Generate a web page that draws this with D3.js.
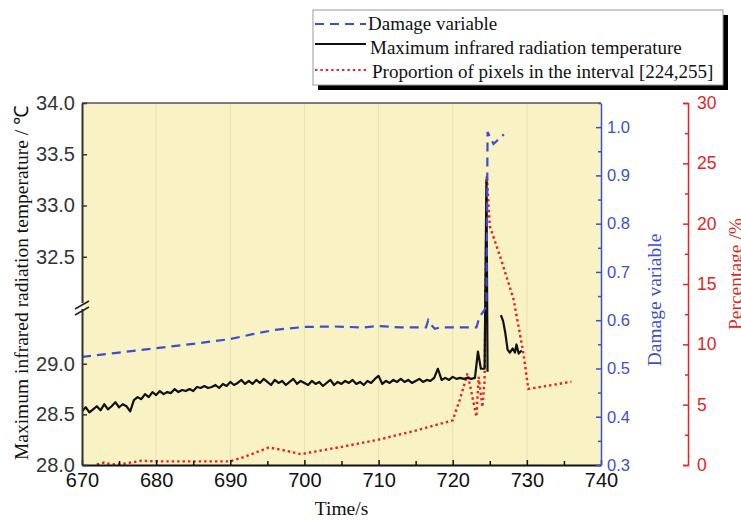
<!DOCTYPE html>
<html><head><meta charset="utf-8">
<script src="https://cdn.jsdelivr.net/npm/d3@7/dist/d3.min.js"></script>
<style>
html,body{margin:0;padding:0;background:#fff;}
svg{display:block;}
</style></head>
<body>
<svg id="chart" width="741" height="520"></svg>
<script>
// ---------- data ----------
const timeTicks = [670, 680, 690, 700, 710, 720, 730, 740];
const tempTicks = [28.0, 28.5, 29.0, 32.5, 33.0, 33.5, 34.0];
const damageTicks = [0.3, 0.4, 0.5, 0.6, 0.7, 0.8, 0.9, 1.0];
const pctTicks = [0, 5, 10, 15, 20, 25, 30];

// Maximum infrared radiation temperature [time, °C]; null = no data
const tempSeries = [
[670.0,28.53],[670.5,28.57],[671.0,28.52],[671.5,28.55],[672.0,28.58],[672.5,28.54],[673.0,28.60],[673.5,28.55],
[674.0,28.58],[674.5,28.62],[675.0,28.57],[675.5,28.60],[676.0,28.58],[676.5,28.53],[677.0,28.64],[677.5,28.67],
[678.0,28.65],[678.5,28.70],[679.0,28.67],[679.5,28.72],[680.0,28.69],[680.5,28.73],[681.0,28.70],[681.5,28.72],
[682.0,28.71],[682.5,28.75],[683.0,28.72],[683.5,28.74],[684.0,28.73],[684.5,28.75],[685.0,28.73],[685.5,28.77],
[686.0,28.76],[686.5,28.78],[687.0,28.76],[687.5,28.77],[688.0,28.79],[688.5,28.76],[689.0,28.80],[689.5,28.78],
[690.0,28.82],[690.5,28.79],[691.0,28.81],[691.5,28.84],[692.0,28.80],[692.5,28.83],[693.0,28.80],[693.5,28.84],
[694.0,28.81],[694.5,28.85],[695.0,28.82],[695.5,28.79],[696.0,28.84],[696.5,28.81],[697.0,28.83],[697.5,28.79],
[698.0,28.82],[698.5,28.85],[699.0,28.80],[699.5,28.83],[700.0,28.81],[700.5,28.79],[701.0,28.83],[701.5,28.80],
[702.0,28.82],[702.5,28.78],[703.0,28.81],[703.5,28.84],[704.0,28.79],[704.5,28.82],[705.0,28.80],[705.5,28.83],
[706.0,28.81],[706.5,28.84],[707.0,28.80],[707.5,28.82],[708.0,28.79],[708.5,28.83],[709.0,28.81],[709.5,28.85],
[710.0,28.88],[710.5,28.80],[711.0,28.83],[711.5,28.81],[712.0,28.84],[712.5,28.82],[713.0,28.85],[713.5,28.82],
[714.0,28.84],[714.5,28.81],[715.0,28.83],[715.5,28.85],[716.0,28.82],[716.5,28.84],[717.0,28.83],[717.5,28.86],
[718.0,28.95],[718.5,28.84],[719.0,28.86],[719.5,28.84],[720.0,28.87],[720.5,28.85],[721.0,28.86],[721.5,28.85],
[722.0,28.86],[722.5,28.85],[723.0,28.86],[723.4,29.12],[723.8,28.95],[724.3,28.95],[724.55,33.25],[724.7,28.92],
[725.0,null],
[726.5,29.48],[726.8,29.42],[727.1,29.30],[727.4,29.14],[727.7,29.11],[728.1,29.15],[728.4,29.11],[728.6,29.19],
[728.9,29.10],[729.3,29.13]
];

// Damage variable [time, value]
const damageSeries = [
[670,0.524],[675,0.533],[680,0.542],[685,0.551],[690,0.561],[693,0.571],[696,0.580],[700,0.586],
[704,0.587],[708,0.585],[710,0.588],[713,0.585],[716.4,0.585],[716.7,0.600],[717.1,0.590],[717.6,0.582],
[718.3,0.585],[723.2,0.585],[723.6,0.606],[724.3,0.622],[724.55,0.630],[724.7,0.990],[725.5,0.965],[726.9,0.985]
];

// Proportion of pixels in the interval [224,255] [time, %]
const pctSeries = [
[672,0.05],[673,0.2],[674,0.05],[675.5,0.1],[677,0.25],[678,0.35],[680,0.3],[685,0.3],[690,0.3],[692,0.7],
[695.2,1.45],[697,1.25],[699.5,0.9],[705,1.5],[710,2.1],[715,2.85],[720,3.7],[721,5.5],[722,7.6],[723.2,4.0],
[723.5,7.3],[724.0,4.8],[724.3,7.0],[724.6,24.0],[725.0,19.8],[726.6,16.9],[728.2,13.75],[729.5,9.4],[730.2,6.3],[736,6.9]
];

const legendLabels = ["Damage variable", "Maximum infrared radiation temperature", "Proportion of pixels in the interval [224,255]"];

// ---------- layout ----------
const L = 82, R = 601, T = 103, B = 465;
const BREAK_Y = 308;
const BLUE = "#3b4fd2", RED = "#e42424", BG = "#f8f2c5";
const SANS = "'Liberation Sans', Arial, sans-serif";
const SERIF = "'Liberation Serif', 'Times New Roman', serif";

const svg = d3.select("#chart");

const x = d3.scaleLinear().domain([670, 740]).range([L, R]);
const yT = d3.scaleLinear().domain([28, 29.55, 32, 34]).range([B, BREAK_Y, BREAK_Y, T]);
const yD = d3.scaleLinear().domain([0.3, 1.05]).range([B, T]);
const yP = d3.scaleLinear().domain([0, 30]).range([B, T]);

// background
svg.append("rect").attr("x", L).attr("y", T).attr("width", R - L).attr("height", B - T).attr("fill", BG);

// vertical grid
svg.append("g").selectAll("line").data(timeTicks.slice(1, -1)).join("line")
  .attr("x1", d => x(d)).attr("x2", d => x(d)).attr("y1", T).attr("y2", B)
  .attr("stroke", "#ebe1ae").attr("stroke-width", 1);

svg.append("clipPath").attr("id", "clip").append("rect")
  .attr("x", L).attr("y", T - 2).attr("width", R - L).attr("height", B - T + 2);

const plot = svg.append("g").attr("clip-path", "url(#clip)");

// red dotted
plot.append("path").datum(pctSeries)
  .attr("d", d3.line().x(d => x(d[0])).y(d => yP(d[1])))
  .attr("fill", "none").attr("stroke", RED).attr("stroke-width", 2.4).attr("stroke-dasharray", "2.4,3");

// black solid
plot.append("path").datum(tempSeries)
  .attr("d", d3.line().defined(d => d[1] !== null).x(d => x(d[0])).y(d => yT(d[1])))
  .attr("fill", "none").attr("stroke", "#111").attr("stroke-width", 2.2).attr("stroke-linejoin", "round");

// blue dashed
plot.append("path").datum(damageSeries)
  .attr("d", d3.line().x(d => x(d[0])).y(d => yD(d[1])))
  .attr("fill", "none").attr("stroke", BLUE).attr("stroke-width", 2.2).attr("stroke-dasharray", "9,6");

// top border
svg.append("line").attr("x1", L).attr("x2", R).attr("y1", T).attr("y2", T).attr("stroke", "#555").attr("stroke-width", 1.5);

// ---------- axes ----------
function styleAxis(g, color, font, size) {
  g.selectAll("path,line").attr("stroke", color).attr("stroke-width", 1.5);
  g.selectAll("text").attr("fill", color).attr("font-family", font).attr("font-size", size);
}

// bottom
const gx = svg.append("g").attr("transform", `translate(0,${B})`)
  .call(d3.axisBottom(x).tickValues(timeTicks).tickFormat(d3.format("d")).tickSizeInner(-5).tickSizeOuter(0).tickPadding(8));
styleAxis(gx, "#111", SANS, 20);
gx.select(".domain").attr("stroke-width", 2);
svg.append("g").attr("transform", `translate(0,${B})`)
  .call(d3.axisBottom(x).tickValues(timeTicks.slice(0, -1).map(d => d + 5)).tickFormat("").tickSizeInner(-4).tickSizeOuter(0))
  .call(g => { g.select(".domain").remove(); g.selectAll("line").attr("stroke", "#111").attr("stroke-width", 1.5); });

// left (broken)
const gl = svg.append("g").attr("transform", `translate(${L},0)`)
  .call(d3.axisLeft(yT).tickValues(tempTicks).tickFormat(d3.format(".1f")).tickSizeInner(-5).tickSizeOuter(0).tickPadding(7));
styleAxis(gl, "#333", SANS, 20);
gl.select(".domain").attr("stroke-width", 2);
// break marks
const brk = svg.append("g");
brk.append("rect").attr("x", L - 2).attr("y", BREAK_Y - 5).attr("width", 4).attr("height", 6).attr("fill", "#fff");
[-3, 3].forEach(o => {
  brk.append("line").attr("x1", L - 7).attr("y1", BREAK_Y + o + 4).attr("x2", L + 7).attr("y2", BREAK_Y + o - 4)
    .attr("stroke", "#222").attr("stroke-width", 1.6);
});

// blue right axis
const gd = svg.append("g").attr("transform", `translate(${R},0)`)
  .call(d3.axisRight(yD).tickValues(damageTicks).tickFormat(d3.format(".1f")).tickSizeInner(-5).tickSizeOuter(0).tickPadding(6));
styleAxis(gd, BLUE, SANS, 16.5);
svg.append("g").attr("transform", `translate(${R},0)`)
  .call(d3.axisRight(yD).tickValues(damageTicks.map(d => d + 0.05)).tickFormat("").tickSizeInner(-3).tickSizeOuter(0))
  .call(g => { g.select(".domain").remove(); g.selectAll("line").attr("stroke", BLUE).attr("stroke-width", 1.5); });

// red right axis
const RX = 688;
const gp = svg.append("g").attr("transform", `translate(${RX},0)`)
  .call(d3.axisRight(yP).tickValues(pctTicks).tickFormat(d3.format("d")).tickSizeInner(-5).tickSizeOuter(-5).tickPadding(9));
styleAxis(gp, RED, SANS, 17.5);
svg.append("g").attr("transform", `translate(${RX},0)`)
  .call(d3.axisRight(yP).tickValues(pctTicks.slice(0, -1).map(d => d + 2.5)).tickFormat("").tickSizeInner(-3).tickSizeOuter(0))
  .call(g => { g.select(".domain").remove(); g.selectAll("line").attr("stroke", RED).attr("stroke-width", 1.5); });

// axis titles
svg.append("text").attr("transform", "translate(28,283) rotate(-90)").attr("text-anchor", "middle")
  .attr("font-family", SERIF).attr("font-size", 19.5).attr("fill", "#111")
  .text("Maximum infrared radiation temperature / ℃");
svg.append("text").attr("x", (L + R) / 2).attr("y", 515).attr("text-anchor", "middle")
  .attr("font-family", SERIF).attr("font-size", 19.5).attr("fill", "#111").text("Time/s");
svg.append("text").attr("transform", "translate(661,300) rotate(-90)").attr("text-anchor", "middle")
  .attr("font-family", SERIF).attr("font-size", 19.5).attr("fill", BLUE).text("Damage variable");
svg.append("text").attr("transform", "translate(742,274) rotate(-90)").attr("text-anchor", "middle")
  .attr("font-family", SERIF).attr("font-size", 19.5).attr("fill", RED).text("Percentage /%");

// ---------- legend ----------
const lg = svg.append("g");
lg.append("rect").attr("x", 318).attr("y", 15).attr("width", 410).attr("height", 75).attr("fill", "#000");
lg.append("rect").attr("x", 313).attr("y", 10).attr("width", 410).attr("height", 75).attr("fill", "#fff").attr("stroke", "#999").attr("stroke-width", 1);
const legendStyles = [
  { color: BLUE, dash: "9,6", w: 2.2, ly: 24, tx: 368, ty: 30 },
  { color: "#111", dash: null, w: 2, ly: 44, tx: 370, ty: 54 },
  { color: RED, dash: "2.4,3", w: 2.2, ly: 70, tx: 372, ty: 78 }
];
legendLabels.forEach((lab, i) => {
  const s = legendStyles[i];
  lg.append("line").attr("x1", 315).attr("x2", 366).attr("y1", s.ly).attr("y2", s.ly)
    .attr("stroke", s.color).attr("stroke-width", s.w).attr("stroke-dasharray", s.dash);
  lg.append("text").attr("x", s.tx).attr("y", s.ty).attr("font-family", SERIF).attr("font-size", 19)
    .attr("fill", "#111").text(lab);
});
</script>
</body></html>
